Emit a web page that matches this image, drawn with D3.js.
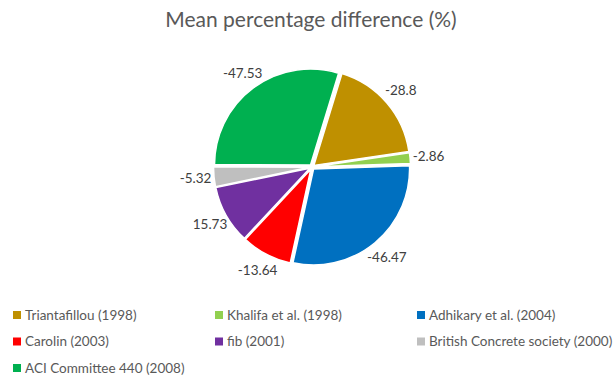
<!DOCTYPE html>
<html>
<head>
<meta charset="utf-8">
<script src="https://cdn.jsdelivr.net/npm/d3@7"></script>
<style>
    body { margin: 0; background: #fff; }
    svg { font-family: Lato, "Open Sans", sans-serif; }
</style>
</head>
<body>
<div id="chart"></div>
<script>
// Chart data
const methods = ["Triantafillou (1998)", "Khalifa et al. (1998)", "Adhikary et al. (2004)",
    "Carolin (2003)", "fib (2001)", "British Concrete society (2000)", "ACI Committee 440 (2008)"];
const meanDiff = [-28.8, -2.86, -46.47, -13.64, 15.73, -5.32, -47.53];
const sliceColors = ["#BF9000", "#92D050", "#0070C0", "#FF0000", "#7030A0", "#BFBFBF", "#00B050"];

const width = 613;
const height = 381;

const svg = d3.select("#chart").append("svg")
    .attr("width", width)
    .attr("height", height);

// Title
svg.append("text")
    .attr("x", 311)
    .attr("y", 27)
    .attr("text-anchor", "middle")
    .style("font-size", "21px")
    .style("fill", "#595959")
    .text("Mean percentage difference (%)");

const cx = 312, cy = 167, radius = 96;
const startAngle = 17 * Math.PI / 180;

// Slice sizes use absolute values, labels keep the sign
const data = methods.map((m, i) => ({ name: m, value: meanDiff[i], color: sliceColors[i] }));

const pie = d3.pie()
    .value(d => Math.abs(d.value))
    .sort(null)
    .startAngle(startAngle)
    .endAngle(startAngle + 2 * Math.PI);

const arc = d3.arc().innerRadius(0).outerRadius(radius);
const labelArc = d3.arc().innerRadius(radius + 21).outerRadius(radius + 21);

const arcs = pie(data);

const g = svg.append("g").attr("transform", `translate(${cx},${cy})`);

// Slightly exploded slices
g.selectAll(".slice")
    .data(arcs)
    .enter().append("path")
    .attr("class", "slice")
    .attr("d", arc)
    .attr("transform", d => {
        const mid = (d.startAngle + d.endAngle) / 2;
        return `translate(${2.5 * Math.sin(mid)},${-2.5 * Math.cos(mid)})`;
    })
    .style("fill", d => d.data.color)
    .style("stroke", "#fff")
    .style("stroke-width", 1.5);

// Data labels outside the pie
g.selectAll(".label")
    .data(arcs)
    .enter().append("text")
    .attr("class", "label")
    .attr("transform", d => `translate(${labelArc.centroid(d)})`)
    .attr("text-anchor", "middle")
    .attr("dy", "0.35em")
    .style("font-size", "13.5px")
    .style("fill", "#404040")
    .text(d => d.data.value);

// Legend, three columns
const legend = svg.selectAll(".legend")
    .data(data)
    .enter().append("g")
    .attr("class", "legend")
    .attr("transform", (d, i) => `translate(${13 + (i % 3) * 202},${315 + Math.floor(i / 3) * 26.5})`);

legend.append("rect")
    .attr("x", 0)
    .attr("y", -4)
    .attr("width", 8)
    .attr("height", 8)
    .style("fill", d => d.color);

legend.append("text")
    .attr("x", 12)
    .attr("dy", "0.35em")
    .style("font-size", "13.5px")
    .style("fill", "#595959")
    .text(d => d.name);
</script>
</body>
</html>
